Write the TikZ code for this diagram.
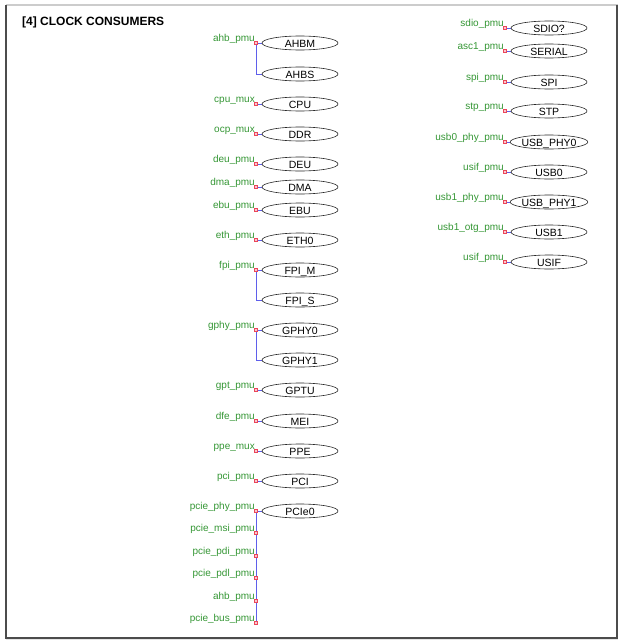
\documentclass[tikz,border=0pt]{standalone}
\usepackage{fontspec}
\setmainfont{Liberation Sans}
\usetikzlibrary{shapes.geometric}
\usetikzlibrary{backgrounds}

\definecolor{lblgreen}{RGB}{52,150,52}
\definecolor{wireblue}{RGB}{95,95,235}
\definecolor{portred}{RGB}{235,70,90}

\begin{document}
\begin{tikzpicture}[x=1pt, y=-1pt,
  blk/.style = {draw=black!85, line width=0.6pt, ellipse, minimum width=76pt, minimum height=14pt, inner sep=0pt, text height=9.8pt, text depth=0pt, font=\fontsize{10.5}{12}\selectfont},
  port/.style = {draw=portred, fill=portred!30, minimum size=3.4pt, inner sep=0pt, line width=0.5pt},
  lbl/.style = {anchor=base east, xshift=-1pt, yshift=2pt, inner sep=0pt, text=lblgreen, font=\fontsize{10}{12}\selectfont},
  wire/.style = {draw=wireblue, line width=0.8pt}]
        \useasboundingbox (0,0) rectangle (625,643);
        % frame
        \draw[gray!40, line width=1.2pt] (6,5) -- (618,5);
        \draw[gray!20, line width=1.5pt] (6,639.5) -- (618,639.5);
        \draw[black!70, line width=1.2pt] (6,5) -- (6,638) -- (617,638) -- (617,5);
        \node[anchor=base west, inner sep=0pt, font=\bfseries\fontsize{12}{14}\selectfont] (title) at (22,25) {[4] CLOCK CONSUMERS};

        % left column
        \node[blk] (ahbm) at (300,43) {AHBM};
        \node[blk] (ahbs) at (300,74) {AHBS};
        \node[blk] (cpu) at (300,104) {CPU};
        \node[blk] (ddr) at (300,134) {DDR};
        \node[blk] (deu) at (300,164) {DEU};
        \node[blk] (dma) at (300,187) {DMA};
        \node[blk] (ebu) at (300,210) {EBU};
        \node[blk] (eth0) at (300,240) {ETH0};
        \node[blk] (fpim) at (300,270) {FPI\_M};
        \node[blk] (fpis) at (300,300) {FPI\_S};
        \node[blk] (gphy0) at (300,330) {GPHY0};
        \node[blk] (gphy1) at (300,360) {GPHY1};
        \node[blk] (gptu) at (300,390) {GPTU};
        \node[blk] (mei) at (300,421) {MEI};
        \node[blk] (ppe) at (300,451) {PPE};
        \node[blk] (pci) at (300,481) {PCI};
        \node[blk] (pcie0) at (300,511) {PCIe0};

        \node[port] (pahb) at (256,43) {};
        \node[port] (pcpu) at (256,104) {};
        \node[port] (pocp) at (256,134) {};
        \node[port] (pdeu) at (256,164) {};
        \node[port] (pdma) at (256,187) {};
        \node[port] (pebu) at (256,210) {};
        \node[port] (peth) at (256,240) {};
        \node[port] (pfpi) at (256,270) {};
        \node[port] (pgphy) at (256,330) {};
        \node[port] (pgpt) at (256,390) {};
        \node[port] (pdfe) at (256,421) {};
        \node[port] (pppe) at (256,451) {};
        \node[port] (ppci) at (256,481) {};
        \node[port] (ppciephy) at (256,511) {};
        \node[port] (ppciemsi) at (256,533) {};
        \node[port] (ppciepdi) at (256,556) {};
        \node[port] (ppciepdl) at (256,578) {};
        \node[port] (ppcieahb) at (256,601) {};
        \node[port] (ppciebus) at (256,623) {};

        \node[lbl] (lahb) at (pahb) {ahb\_pmu};
        \node[lbl] (lcpu) at (pcpu) {cpu\_mux};
        \node[lbl] (locp) at (pocp) {ocp\_mux};
        \node[lbl] (ldeu) at (pdeu) {deu\_pmu};
        \node[lbl] (ldma) at (pdma) {dma\_pmu};
        \node[lbl] (lebu) at (pebu) {ebu\_pmu};
        \node[lbl] (leth) at (peth) {eth\_pmu};
        \node[lbl] (lfpi) at (pfpi) {fpi\_pmu};
        \node[lbl] (lgphy) at (pgphy) {gphy\_pmu};
        \node[lbl] (lgpt) at (pgpt) {gpt\_pmu};
        \node[lbl] (ldfe) at (pdfe) {dfe\_pmu};
        \node[lbl] (lppe) at (pppe) {ppe\_mux};
        \node[lbl] (lpci) at (ppci) {pci\_pmu};
        \node[lbl] (lpciephy) at (ppciephy) {pcie\_phy\_pmu};
        \node[lbl] (lpciemsi) at (ppciemsi) {pcie\_msi\_pmu};
        \node[lbl] (lpciepdi) at (ppciepdi) {pcie\_pdi\_pmu};
        \node[lbl] (lpciepdl) at (ppciepdl) {pcie\_pdl\_pmu};
        \node[lbl] (lpcieahb) at (ppcieahb) {ahb\_pmu};
        \node[lbl] (lpciebus) at (ppciebus) {pcie\_bus\_pmu};

        % right column
        \node[blk] (sdio) at (549,28) {SDIO?};
        \node[blk] (serial) at (549,51) {SERIAL};
        \node[blk] (spi) at (549,82) {SPI};
        \node[blk] (stp) at (549,111) {STP};
        \node[blk] (usbphy0) at (549,142) {USB\_PHY0};
        \node[blk] (usb0) at (549,172) {USB0};
        \node[blk] (usbphy1) at (549,202) {USB\_PHY1};
        \node[blk] (usb1) at (549,232) {USB1};
        \node[blk] (usif) at (549,262) {USIF};

        \node[port] (psdio) at (505,28) {};
        \node[port] (pasc) at (505,51) {};
        \node[port] (pspi) at (505,82) {};
        \node[port] (pstp) at (505,111) {};
        \node[port] (pusbphy0) at (505,142) {};
        \node[port] (pusb0) at (505,172) {};
        \node[port] (pusbphy1) at (505,202) {};
        \node[port] (pusb1) at (505,232) {};
        \node[port] (pusif) at (505,262) {};

        \node[lbl] (lsdio) at (psdio) {sdio\_pmu};
        \node[lbl] (lasc) at (pasc) {asc1\_pmu};
        \node[lbl] (lspi) at (pspi) {spi\_pmu};
        \node[lbl] (lstp) at (pstp) {stp\_pmu};
        \node[lbl] (lusbphy0) at (pusbphy0) {usb0\_phy\_pmu};
        \node[lbl] (lusb0) at (pusb0) {usif\_pmu};
        \node[lbl] (lusbphy1) at (pusbphy1) {usb1\_phy\_pmu};
        \node[lbl] (lusb1) at (pusb1) {usb1\_otg\_pmu};
        \node[lbl] (lusif) at (pusif) {usif\_pmu};

        \begin{scope}[on background layer]
        \draw[wire] (pahb) -- (ahbm.west);
        \draw[wire] (pahb) |- (ahbs.west);
        \draw[wire] (pcpu) -- (cpu.west);
        \draw[wire] (pocp) -- (ddr.west);
        \draw[wire] (pdeu) -- (deu.west);
        \draw[wire] (pdma) -- (dma.west);
        \draw[wire] (pebu) -- (ebu.west);
        \draw[wire] (peth) -- (eth0.west);
        \draw[wire] (pfpi) -- (fpim.west);
        \draw[wire] (pfpi) |- (fpis.west);
        \draw[wire] (pgphy) -- (gphy0.west);
        \draw[wire] (pgphy) |- (gphy1.west);
        \draw[wire] (pgpt) -- (gptu.west);
        \draw[wire] (pdfe) -- (mei.west);
        \draw[wire] (pppe) -- (ppe.west);
        \draw[wire] (ppci) -- (pci.west);
        \draw[wire] (ppciephy) -- (pcie0.west);
        \draw[wire] (ppciephy) -- (ppciebus);
        \draw[wire] (psdio) -- (sdio.west);
        \draw[wire] (pasc) -- (serial.west);
        \draw[wire] (pspi) -- (spi.west);
        \draw[wire] (pstp) -- (stp.west);
        \draw[wire] (pusbphy0) -- (usbphy0.west);
        \draw[wire] (pusb0) -- (usb0.west);
        \draw[wire] (pusbphy1) -- (usbphy1.west);
        \draw[wire] (pusb1) -- (usb1.west);
        \draw[wire] (pusif) -- (usif.west);
        \end{scope}
\end{tikzpicture}
\end{document}
